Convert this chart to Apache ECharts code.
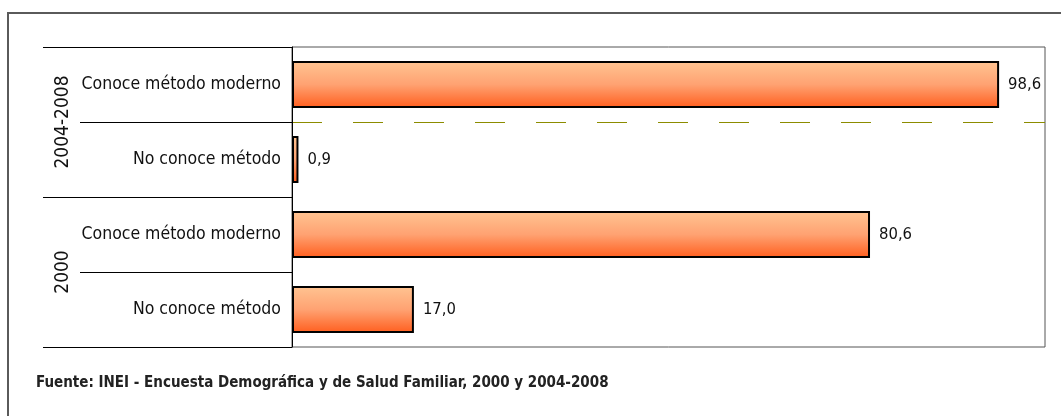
<!DOCTYPE html>
<html>
<head>
<meta charset="utf-8">
<script src="https://cdn.jsdelivr.net/npm/echarts@6/dist/echarts.min.js"></script>
<style>
  html, body { margin: 0; padding: 0; background: #fff; }
  #chart { width: 1061px; height: 416px; }
</style>
</head>
<body>
<div id="chart"></div>
<script>
// categories bottom to top, as the category axis draws them
var categories = ["No conoce método", "Conoce método moderno", "No conoce método", "Conoce método moderno"];
var values = [17.0, 80.6, 0.9, 98.6];
var periods = ["2000", "2004-2008"];
var source = "Fuente: INEI - Encuesta Demográfica y de Salud Familiar, 2000 y 2004-2008";

var narrow = "'DejaVu Sans Condensed', sans-serif";

var chart = echarts.init(document.getElementById("chart"));
var option = {
    animation: false,
    backgroundColor: "#fff",
    grid: {left: 292, top: 47, right: 16, bottom: 69, show: true, borderColor: "#555", borderWidth: 1, containLabel: false},
    graphic: [
        {type: "rect", shape: {x: 8, y: 13, width: 1100, height: 500}, style: {fill: null, stroke: "#5a5a5a", lineWidth: 2}, silent: true},
        {type: "text", left: 36, top: 376, style: {text: source, font: "bold 15px " + narrow, fill: "#222"}}
    ],
    xAxis: {type: "value", min: 0, max: 105, show: false},
    yAxis: [
        {
            type: "category", data: categories,
            axisLine: {show: true, lineStyle: {color: "#000", width: 1}},
            axisTick: {show: true, length: 212, lineStyle: {color: "#000", width: 1}},
            axisLabel: {margin: 11, fontFamily: narrow, fontSize: 17.5, color: "#111"},
            // dashed line only between the two 2004-2008 rows
            splitLine: {
                show: true, showMinLine: false, showMaxLine: false,
                interval: function (idx) { return idx === 0 || idx === 3; },
                lineStyle: {color: "#8c8c00", width: 1, type: [30, 31]}
            }
        },
        {
            type: "category", data: periods, position: "left",
            axisLine: {show: false},
            axisTick: {show: true, length: 249, lineStyle: {color: "#000", width: 1}},
            axisLabel: {rotate: 90, margin: 219, fontFamily: narrow, fontSize: 19, color: "#111"},
            splitLine: {show: false}
        }
    ],
    series: [{
        type: "bar", data: values, barWidth: 47,
        itemStyle: {
            borderColor: "#000", borderWidth: 2,
            color: new echarts.graphic.LinearGradient(0, 0, 0, 1, [
                {offset: 0, color: "#ffc492"},
                {offset: 0.5, color: "#ffa272"},
                {offset: 1, color: "#ff5e1e"}
            ])
        },
        label: {
            show: true, position: "right", distance: 9,
            fontFamily: narrow, fontSize: 16.5, color: "#111",
            formatter: function (p) { return p.value.toFixed(1).replace(".", ","); }
        }
    }]
};
chart.setOption(option);
</script>
</body>
</html>
